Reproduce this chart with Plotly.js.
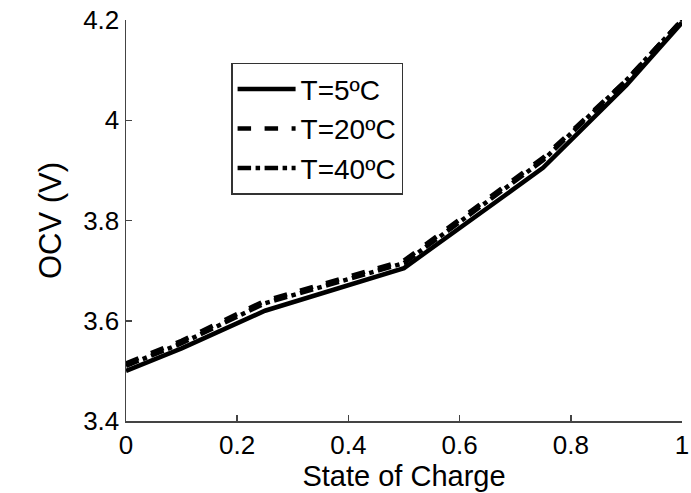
<!DOCTYPE html>
<html>
<head>
<meta charset="utf-8">
<script src="https://cdn.plot.ly/plotly-3.0.1.min.js"></script>
<style>html,body{margin:0;padding:0;background:#fff;}#chart{width:691px;height:493px;}</style>
</head>
<body>
<div id="chart"></div>
<script>
const soc = [0, 0.1, 0.25, 0.5, 0.75, 0.9, 1];
const ocv5 = [3.50, 3.545, 3.62, 3.705, 3.905, 4.07, 4.195];
const ocv20 = [3.515, 3.56, 3.64, 3.72, 3.925, 4.08, 4.2];
const ocv40 = [3.51, 3.555, 3.635, 3.715, 3.92, 4.08, 4.2];
const seriesNames = ["T=5ºC", "T=20ºC", "T=40ºC"];
const xTicks = [0, 0.2, 0.4, 0.6, 0.8, 1];
const xTickText = ["0", "0.2", "0.4", "0.6", "0.8", "1"];
const yTicks = [3.4, 3.6, 3.8, 4.0, 4.2];
const yTickText = ["3.4", "3.6", "3.8", "4", "4.2"];

const font = "Arial";
const traces = [
  {x: soc, y: ocv5, name: seriesNames[0], mode: "lines", line: {color: "#000", width: 4.5, dash: "solid"}},
  {x: soc, y: ocv20, name: seriesNames[1], mode: "lines", line: {color: "#000", width: 4.5, dash: "dash"}},
  {x: soc, y: ocv40, name: seriesNames[2], mode: "lines", line: {color: "#000", width: 4.5, dash: "dashdot"}}
];
const layout = {
  width: 691, height: 493,
  margin: {l: 126, r: 9, t: 20, b: 72},
  paper_bgcolor: "#fff", plot_bgcolor: "#fff",
  font: {family: font, color: "#000", size: 26},
  showlegend: true,
  legend: {x: 0.189, y: 0.893, xanchor: "left", yanchor: "top",
           bordercolor: "#333", borderwidth: 1.5, bgcolor: "#fff",
           font: {family: font, size: 28, color: "#000"},
           tracegroupgap: 0, itemwidth: 58},
  xaxis: {range: [0, 1], tickvals: xTicks, ticktext: xTickText,
          showgrid: false, zeroline: false, showline: true, linecolor: "#444", linewidth: 1.5,
          ticks: "inside", ticklen: 6, tickcolor: "#444", tickwidth: 1.5,
          automargin: false,
          tickfont: {size: 26, family: font}, fixedrange: true,
          title: {text: "State of Charge", font: {size: 29, family: font}, standoff: 2}},
  yaxis: {range: [3.4, 4.2], tickvals: yTicks, ticktext: yTickText,
          showgrid: false, zeroline: false, showline: true, linecolor: "#444", linewidth: 1.5,
          ticks: "inside", ticklen: 6, tickcolor: "#444", tickwidth: 1.5,
          automargin: false,
          tickfont: {size: 26, family: font}, fixedrange: true,
          title: {text: "OCV (V)", font: {size: 31, family: font}, standoff: 12}}
};
Plotly.newPlot("chart", traces, layout, {displayModeBar: false, staticPlot: true});
</script>
</body>
</html>
